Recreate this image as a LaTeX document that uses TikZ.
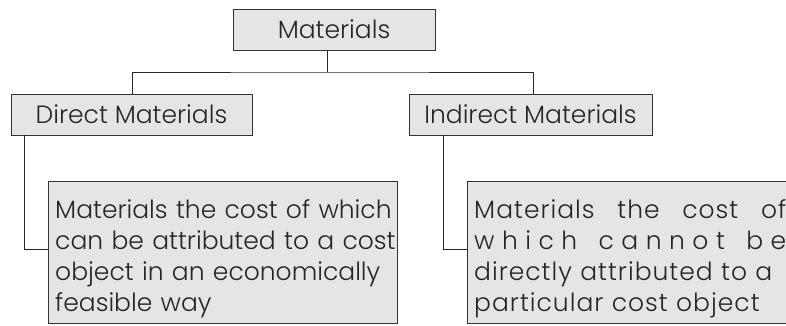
\documentclass[tikz,border=0pt]{standalone}
\usepackage{fontspec}
\setmainfont{Poppins}[UprightFont=* Light]
\begin{document}
\begin{tikzpicture}[x=1pt,y=-1pt,
  box/.style={draw=black!80, fill=black!10, line width=0.8pt, inner sep=0pt},
  link/.style={draw=black!85, line width=0.8pt},
  label/.style={font=\fontsize{25}{29}\selectfont, text=black!85},
  desc/.style={font=\fontsize{25}{31}\selectfont, text=black!85, align=left,
    anchor=north west, inner sep=0pt, text width=#1}]
\useasboundingbox (0,0) rectangle (786,325);
% boxes
\path[box] (233,9) rectangle (435,50);
\node[label] (mat) at (334,29.5) {Materials};
\path[box] (11,94) rectangle (252,135);
\node[label] (dir) at (131.5,114.5) {Direct Materials};
\path[box] (409,94) rectangle (652,135);
\node[label] (ind) at (530.5,114.5) {Indirect Materials};
\path[box] (48,181) rectangle (397,323);
\path[box] (467,181) rectangle (790,323);
\node[desc=345pt] (dtext) at (55,199) {Materials the cost of which\\can be attributed to a cost\\object in an economically\\feasible way};
\node[desc=312pt] (itext) at (474,199) {\addfontfeature{LetterSpace=4}Materials\hfill the\hfill cost\hfill of\\
{\addfontfeature{LetterSpace=30}which\hfill cannot\hfill be}\\
directly attributed to a\\particular cost object};
% connectors
\coordinate (top) at (327,50);
\coordinate (bar) at (327,72);
\draw[link] (top) -- (bar);
\draw[link] (132,94) |- (bar) -| (533,94);
\draw[link] (24,135) |- (48,249);
\draw[link] (443,135) |- (467,249);
\end{tikzpicture}
\end{document}
